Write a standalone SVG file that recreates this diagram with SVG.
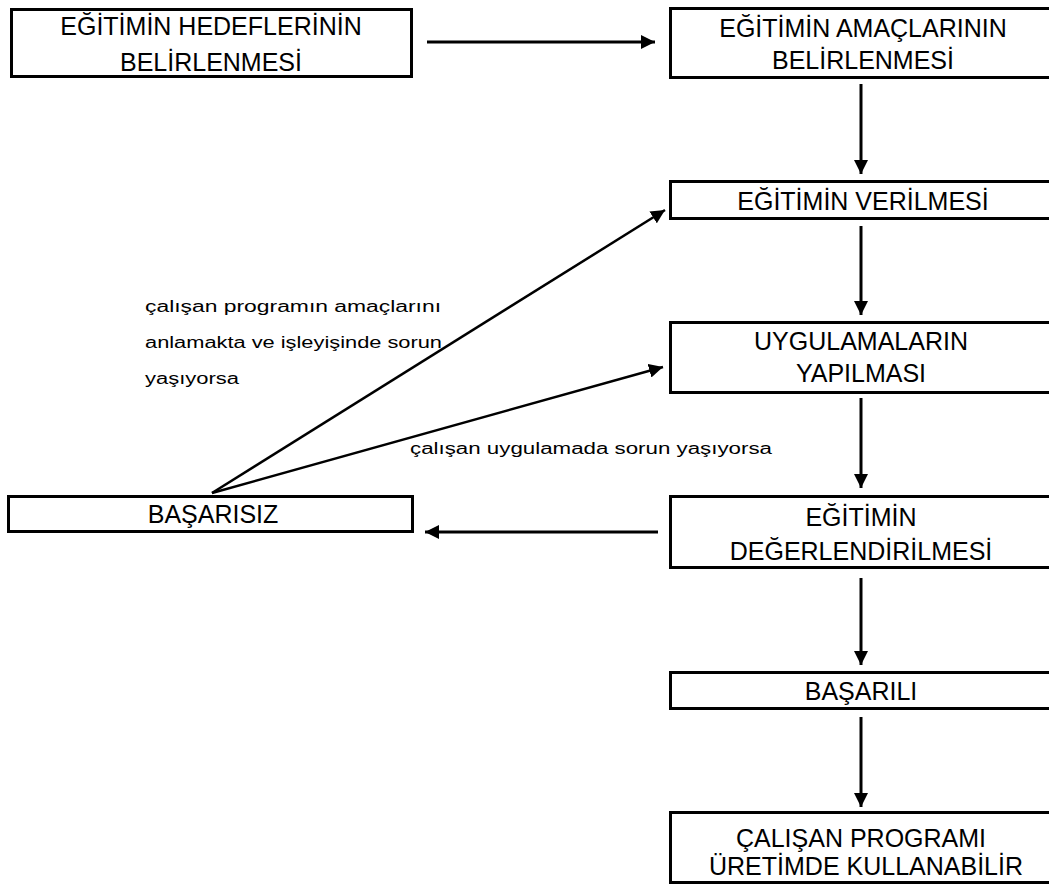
<svg xmlns="http://www.w3.org/2000/svg" width="1049" height="887" viewBox="0 0 1049 887">
  <style>
    .box { fill: #ffffff; stroke: #000000; stroke-width: 3; }
    .t { font-family: "Liberation Sans", Arial, sans-serif; font-size: 25px; fill: #000000; text-anchor: middle; }
    .lbl { font-family: "Liberation Sans", Arial, sans-serif; font-size: 16px; fill: #000000; }
    .arrow { stroke: #000000; stroke-width: 3; fill: none; marker-end: url(#head); }
    .diag { stroke: #000000; stroke-width: 2.5; fill: none; marker-end: url(#head); }
  </style>
  <defs>
    <marker id="head" markerUnits="userSpaceOnUse" markerWidth="16" markerHeight="14" refX="14" refY="7" orient="auto">
      <path d="M0,0 L14,7 L0,14 Z" fill="#000000"/>
    </marker>
  </defs>
  <rect width="1049" height="887" fill="#ffffff"/>

  <g id="connectors">
    <line class="arrow" x1="427" y1="42" x2="655" y2="42"/>
    <line class="arrow" x1="861" y1="84" x2="861" y2="174"/>
    <line class="arrow" x1="861" y1="226" x2="861" y2="315"/>
    <line class="arrow" x1="861" y1="398" x2="861" y2="488"/>
    <line class="arrow" x1="861" y1="578" x2="861" y2="665"/>
    <line class="arrow" x1="861" y1="717" x2="861" y2="807"/>
    <line class="arrow" x1="658" y1="532" x2="425" y2="532"/>
    <line class="diag" x1="212" y1="493" x2="665" y2="210"/>
    <line class="diag" x1="212" y1="493" x2="663" y2="367"/>
  </g>

  <g id="n-hedefler">
    <rect class="box" x="11.5" y="9.5" width="400" height="67"/>
    <text class="t" x="211" y="35">EĞİTİMİN HEDEFLERİNİN</text>
    <text class="t" x="211" y="71">BELİRLENMESİ</text>
  </g>
  <g id="n-amaclar">
    <rect class="box" x="670.5" y="8.5" width="383" height="69"/>
    <text class="t" x="863" y="37">EĞİTİMİN AMAÇLARININ</text>
    <text class="t" x="863" y="69">BELİRLENMESİ</text>
  </g>
  <g id="n-verilmesi">
    <rect class="box" x="670.5" y="181.5" width="383" height="37"/>
    <text class="t" x="863" y="210">EĞİTİMİN VERİLMESİ</text>
  </g>
  <g id="n-uygulamalar">
    <rect class="box" x="670.5" y="322.5" width="383" height="70"/>
    <text class="t" x="861" y="350">UYGULAMALARIN</text>
    <text class="t" x="861" y="382">YAPILMASI</text>
  </g>
  <g id="n-degerlendirme">
    <rect class="box" x="670.5" y="496.5" width="383" height="71"/>
    <text class="t" x="861" y="526">EĞİTİMİN</text>
    <text class="t" x="861" y="560">DEĞERLENDİRİLMESİ</text>
  </g>
  <g id="n-basarisiz">
    <rect class="box" x="8.5" y="496.5" width="404" height="35"/>
    <text class="t" x="213" y="523">BAŞARISIZ</text>
  </g>
  <g id="n-basarili">
    <rect class="box" x="670.5" y="672.5" width="383" height="36"/>
    <text class="t" x="861" y="700">BAŞARILI</text>
  </g>
  <g id="n-uretim">
    <rect class="box" x="670.5" y="812.5" width="383" height="70"/>
    <text class="t" x="861" y="847">ÇALIŞAN PROGRAMI</text>
    <text class="t" x="866" y="875">ÜRETİMDE KULLANABİLİR</text>
  </g>

  <g id="labels">
    <text class="lbl" x="145" y="312" textLength="296" lengthAdjust="spacingAndGlyphs">çalışan programın amaçlarını</text>
    <text class="lbl" x="145" y="348" textLength="297" lengthAdjust="spacingAndGlyphs">anlamakta ve işleyişinde sorun</text>
    <text class="lbl" x="145" y="384" textLength="94" lengthAdjust="spacingAndGlyphs">yaşıyorsa</text>
    <text class="lbl" x="410" y="454" textLength="362" lengthAdjust="spacingAndGlyphs">çalışan uygulamada sorun yaşıyorsa</text>
  </g>
</svg>
